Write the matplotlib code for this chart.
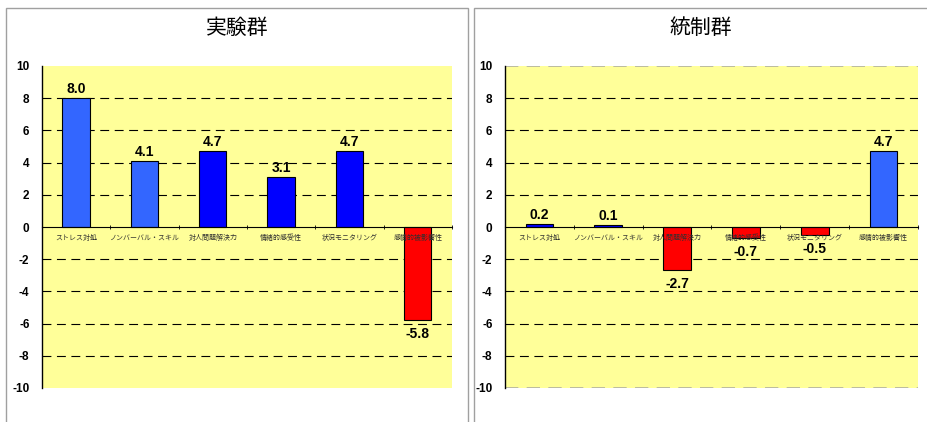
import numpy as np
import matplotlib.pyplot as plt
from matplotlib.patches import Rectangle

plt.rcParams['font.family'] = ['Liberation Sans', 'Noto Sans CJK JP']

categories = ['ストレス対処', 'ノンバーバル・スキル', '対人問題解決力',
              '情緒的感受性', '状況モニタリング', '感情的被影響性']
exp_values = [8.0, 4.1, 4.7, 3.1, 4.7, -5.8]
ctl_values = [0.2, 0.1, -2.7, -0.7, -0.5, 4.7]
exp_colors = ['#3366FF', '#3366FF', '#0000FF', '#0000FF', '#0000FF', '#FF0000']
ctl_colors = ['#0000FF', '#0000FF', '#FF0000', '#FF0000', '#FF0000', '#3366FF']
yticks = [-10, -8, -6, -4, -2, 0, 2, 4, 6, 8, 10]

W, H = 928, 422
fig = plt.figure(figsize=(W / 100, H / 100), dpi=100)

# panel frames
fig.patches.append(Rectangle((6 / W, -0.1), 462 / W, (H - 8) / H + 0.1,
                             transform=fig.transFigure, fill=False,
                             edgecolor='#a0a0a0', lw=1))
fig.patches.append(Rectangle((474 / W, -0.1), 0.6, (H - 8) / H + 0.1,
                             transform=fig.transFigure, fill=False,
                             edgecolor='#a0a0a0', lw=1))


def draw_panel(rect, title, title_x, values, colors, edge_grid):
    ax = fig.add_axes(rect)
    ax.set_facecolor('#FFFF99')
    x = np.arange(len(values))
    ax.bar(x, values, width=0.4, color=colors, edgecolor='black', lw=0.8, zorder=3)
    ax.set_xlim(-0.5, len(values) - 0.5)
    ax.set_ylim(-10, 10)
    for v in [-8, -6, -4, -2, 2, 4, 6, 8]:
        ax.axhline(v, color='black', lw=0.8, ls=(0, (8, 5)), zorder=1)
    if edge_grid:
        for v in [-10, 10]:
            ax.axhline(v, color='#b0b0a0', lw=1.2, ls=(0, (8, 5)), zorder=1)
    for s in ['top', 'right']:
        ax.spines[s].set_visible(False)
    ax.spines['bottom'].set_position(('data', 0))
    ax.spines['bottom'].set_zorder(4)
    ax.spines['left'].set_linewidth(1)
    ax.set_yticks(yticks)
    ax.set_yticklabels([str(t) for t in yticks], fontsize=8.5, fontweight='bold')
    ax.tick_params(axis='y', length=0, pad=9)
    ax.set_xticks(x)
    ax.set_xticklabels([])
    ax.set_xticks(np.arange(len(values) + 1) - 0.5, minor=True)
    ax.tick_params(axis='x', which='major', length=0)
    ax.tick_params(axis='x', which='minor', length=3, direction='inout', width=0.6)
    for i, c in enumerate(categories):
        ax.text(i, -0.45, c, ha='center', va='top', fontsize=5,
                color='#303030', family=['Noto Sans CJK JP'], zorder=5)
    for i, v in enumerate(values):
        if v >= 0:
            ax.annotate('%.1f' % v, (i, v), xytext=(0, 1.5), textcoords='offset points',
                        ha='center', va='bottom', fontsize=10, fontweight='bold', zorder=5)
        else:
            ax.annotate('%.1f' % v, (i, v), xytext=(0, -5), textcoords='offset points',
                        ha='center', va='top', fontsize=10, fontweight='bold', zorder=5)
    fig.text(title_x / W, 1 - 28 / H, title, ha='center', va='center', fontsize=15,
             family=['Noto Sans CJK JP'])
    return ax


bottom = (H - 388) / H
height = 322 / H
draw_panel([42 / W, bottom, 410 / W, height], '実験群', 237, exp_values, exp_colors, False)
draw_panel([505 / W, bottom, 413 / W, height], '統制群', 701, ctl_values, ctl_colors, True)

fig.savefig('out.png', dpi=100)
